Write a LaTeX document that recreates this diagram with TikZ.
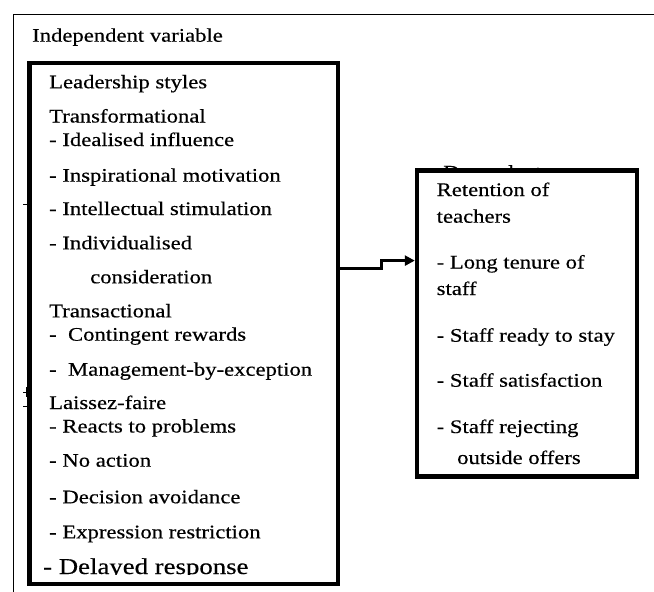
\documentclass[tikz,border=0pt]{standalone}
\usepackage{fontspec}
\setmainfont{Liberation Serif}[FakeStretch=1.18,FakeBold=0.4]
\usepackage{tikz}
\usetikzlibrary{arrows.meta,positioning}
\tikzset{
  frame-style/.style = {
    draw, line width=1pt
  },
  box-style/.style = {
    rectangle, draw, fill=white,
    line width=4.4pt,
    inner sep=0pt
  },
  item-style/.style = {
    anchor=base west, inner sep=0pt,
    font=\fontsize{19.2}{23}\selectfont
  },
  big-item-style/.style = {
    item-style,
    font=\fontsize{22.7}{27}\selectfont
  },
  link-style/.style = {
    line width=2.6pt,
    -{Triangle[length=10pt,width=10pt]}
  }
}

\begin{document}
\begin{tikzpicture}[x=1pt,y=-1pt]
  \useasboundingbox (0,0) rectangle (654,592);
  % outer frame and labels
  \draw[frame-style] (13,592) -- (13,14.5) -- (654,14.5);
  \node[item-style] (indep-label) at (32,41.7) {Independent variable};
  \node[item-style] (dep-label) at (443,178.5) {Dependent};
  \draw[frame-style] (23,204) -- (28,204)
                     (23,392) -- (28,392)
                     (23,406) -- (28,406)
                     (26,387) -- (26,397);

  % the two boxes
  \node[box-style, minimum width=308.5pt, minimum height=521pt]
       (lead-box) at (183.75,323.5) {};
  \node[box-style, minimum width=220pt, minimum height=306pt]
       (ret-box) at (527,323.5) {};

  % leadership styles
  \foreach \xpos/\ypos/\txt [count=\i] in {
      49/88.3/Leadership styles,
      49/122.5/Transformational,
      49/146/- Idealised influence,
      49/181.7/- Inspirational motivation,
      49/215/- Intellectual stimulation,
      49/249.3/- Individualised,
      90/283.3/consideration,
      49/317.3/Transactional,
      49/340.7/-\ \ Contingent rewards,
      49/375.7/-\ \ Management-by-exception,
      49/409/Laissez-faire,
      49/432.5/- Reacts to problems,
      49/466.7/- No action,
      49/503.3/- Decision avoidance,
      49/538.3/- Expression restriction}
    \node[item-style] (lead-\i) at (\xpos,\ypos) {\txt};
  \begin{scope}
    \clip (31,65) rectangle (336,574.3);
    \node[big-item-style] (lead-16) at (43,574) {- Delayed response};
  \end{scope}

  % retention of teachers
  \foreach \xpos/\ypos/\txt [count=\i] in {
      436.5/196/Retention of,
      436.5/222.7/teachers,
      436.5/268.5/- Long tenure of,
      436.5/295/staff,
      436.5/341.7/- Staff ready to stay,
      436.5/386.7/- Staff satisfaction,
      436.5/433/- Staff rejecting,
      457/464/outside offers}
    \node[item-style] (ret-\i) at (\xpos,\ypos) {\txt};

  % link
  \coordinate (step-a) at (381.5,268.3);
  \coordinate (step-b) at (381.5,260.6);
  \draw[link-style] (lead-box.east |- step-a) -- (step-a) -- (step-b)
                    -- (ret-box.west |- step-b);
\end{tikzpicture}
\end{document}
